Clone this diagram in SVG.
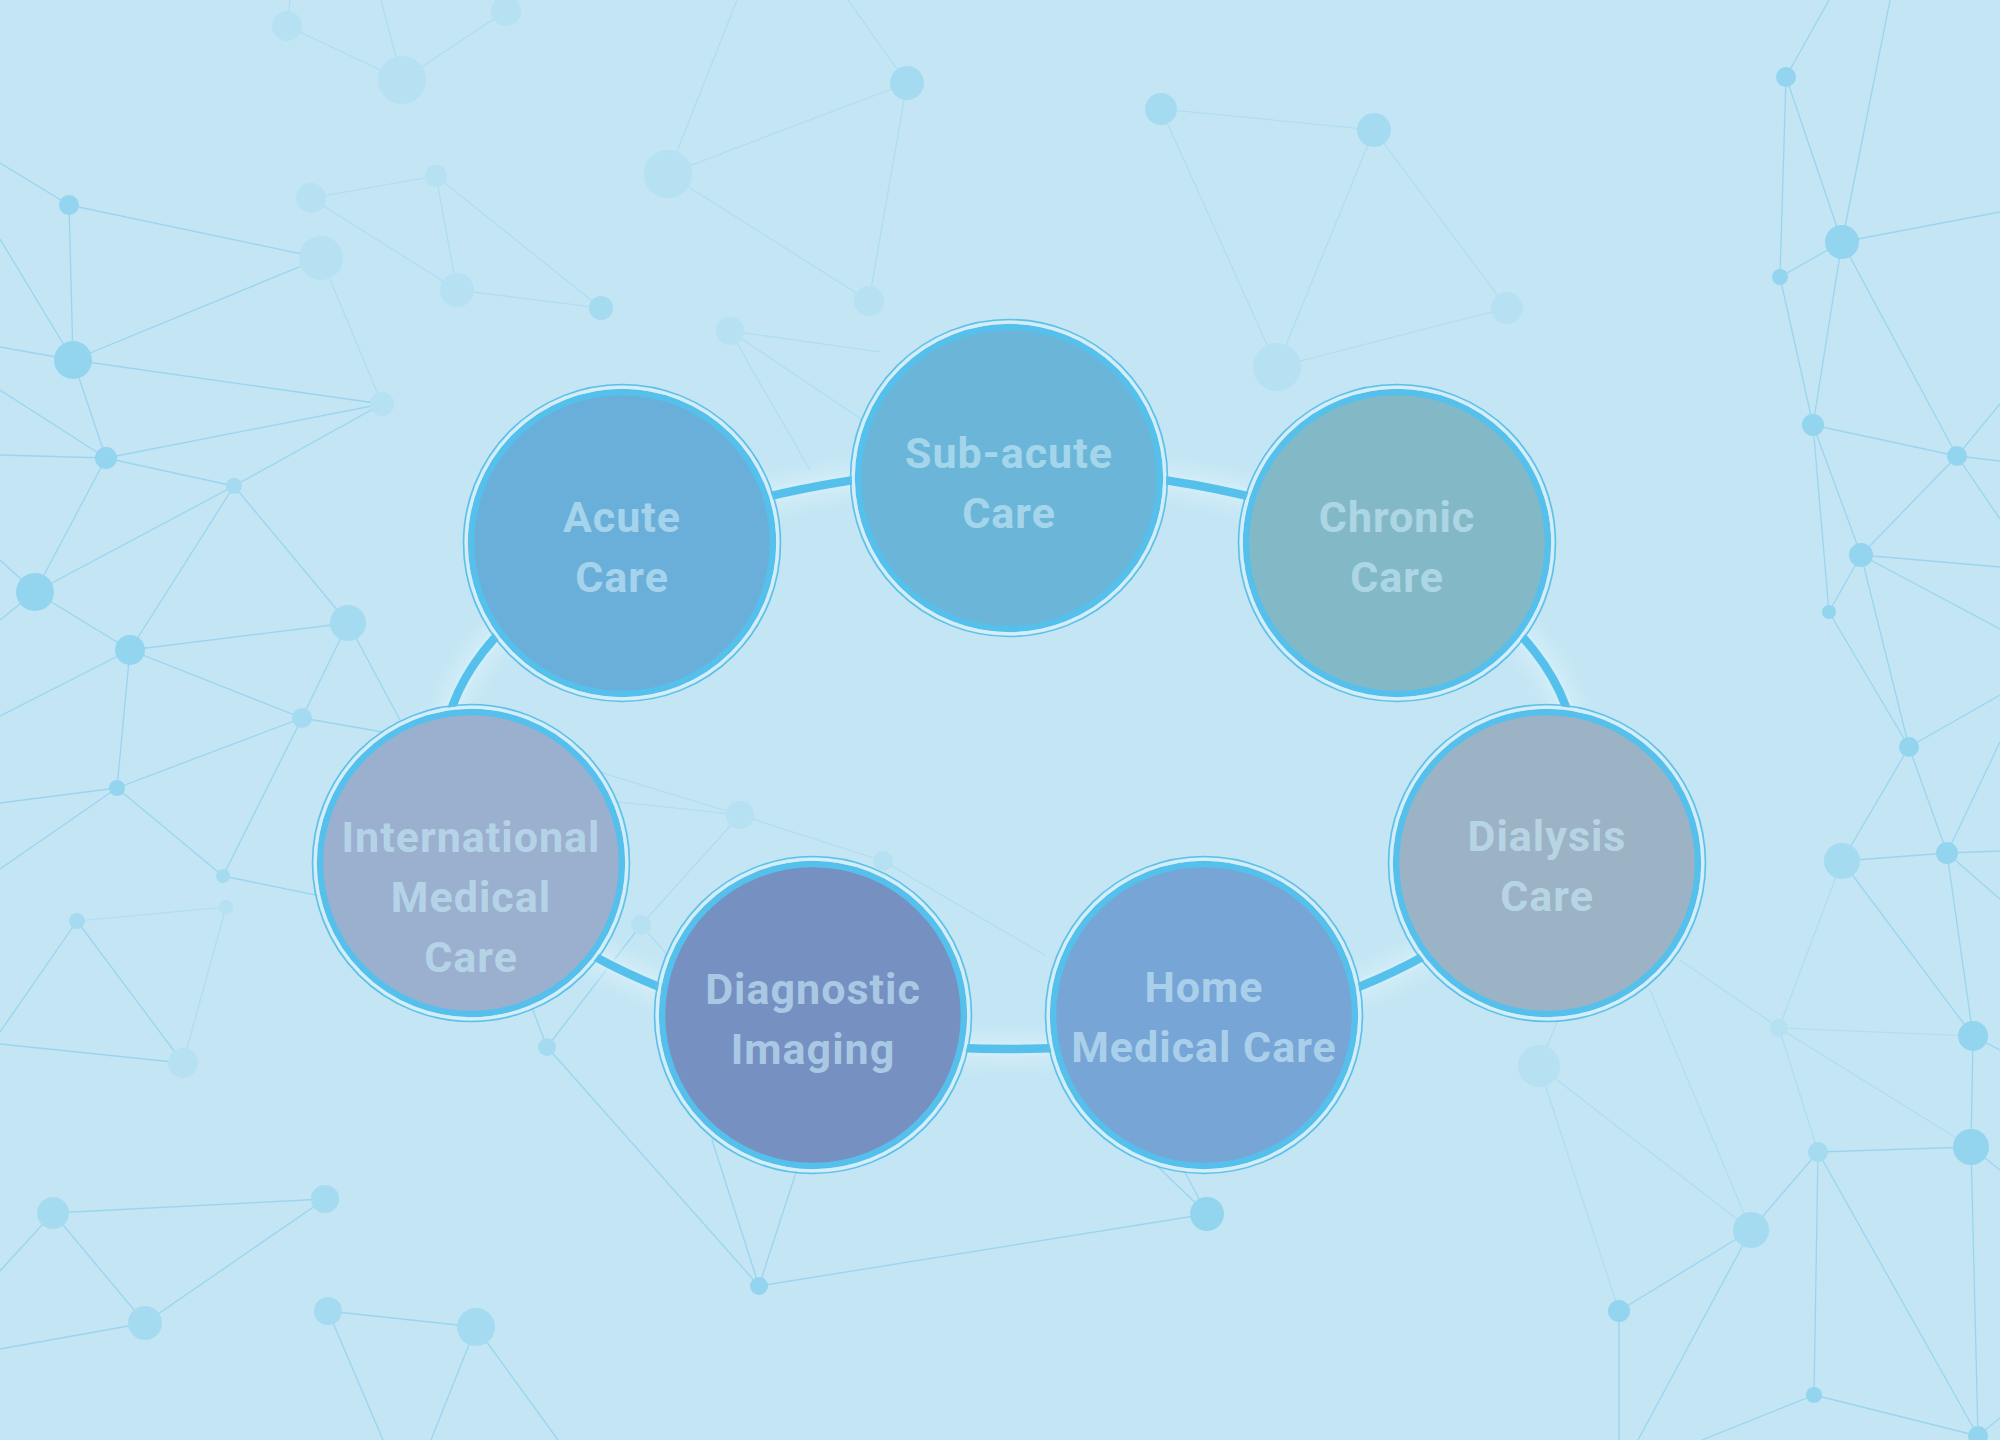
<svg xmlns="http://www.w3.org/2000/svg" width="2000" height="1440" viewBox="0 0 2000 1440">
<style>
.ln{stroke:#8dd0ee;stroke-width:1.3;opacity:.75;fill:none}
.lf{stroke:#a6daf0;stroke-width:1.2;opacity:.7;fill:none}
.dt{fill:#93d4ef}
.dm{fill:#a5dbf0}
.df{fill:#b5e1f2}
.ring{fill:none;stroke:#55c0eb;stroke-width:6.5}
.gap{fill:none;stroke:#d3eef9;stroke-width:3}
.out{fill:none;stroke:#5cc0ea;stroke-width:1.6}
.lbl{font-family:Roboto,"Liberation Sans",sans-serif;font-weight:700;font-size:43px;letter-spacing:1px;fill:#c4e6f5;fill-opacity:.68;text-anchor:middle}
</style>
<defs>
<filter id="blur" x="-20%" y="-20%" width="140%" height="140%"><feGaussianBlur stdDeviation="8"/></filter>
</defs>
<rect width="2000" height="1440" fill="#c3e5f4"/>
<g id="background-network">
<g class="lf">
<line x1="287" y1="26" x2="290" y2="0"/><line x1="287" y1="26" x2="402" y2="80"/><line x1="402" y1="80" x2="381" y2="0"/><line x1="402" y1="80" x2="506" y2="11"/>
<line x1="382" y1="404" x2="321" y2="258"/>
<line x1="311" y1="198" x2="436" y2="176"/><line x1="311" y1="198" x2="457" y2="290"/><line x1="436" y1="176" x2="457" y2="290"/><line x1="436" y1="176" x2="601" y2="308"/><line x1="457" y1="290" x2="601" y2="308"/>
<line x1="668" y1="174" x2="737" y2="0"/><line x1="668" y1="174" x2="907" y2="83"/><line x1="668" y1="174" x2="869" y2="301"/><line x1="907" y1="83" x2="869" y2="301"/><line x1="907" y1="83" x2="848" y2="0"/>
<line x1="730" y1="331" x2="880" y2="352"/><line x1="730" y1="331" x2="870" y2="425"/><line x1="730" y1="331" x2="810" y2="470"/>
<line x1="1161" y1="109" x2="1374" y2="130"/><line x1="1161" y1="109" x2="1277" y2="367"/><line x1="1374" y1="130" x2="1277" y2="367"/><line x1="1374" y1="130" x2="1507" y2="308"/><line x1="1277" y1="367" x2="1507" y2="308"/>
<line x1="1751" y1="1230" x2="1539" y2="1066"/><line x1="1539" y1="1066" x2="1619" y2="1311"/><line x1="1539" y1="1066" x2="1570" y2="990"/><line x1="1751" y1="1230" x2="1650" y2="990"/><line x1="1779" y1="1028" x2="1842" y2="861"/><line x1="1779" y1="1028" x2="1973" y2="1036"/><line x1="1779" y1="1028" x2="1971" y2="1147"/><line x1="1779" y1="1028" x2="1818" y2="1152"/><line x1="1779" y1="1028" x2="1680" y2="960"/>
<line x1="226" y1="907" x2="77" y2="921"/><line x1="226" y1="907" x2="183" y2="1063"/>
<line x1="641" y1="925" x2="740" y2="815"/><line x1="740" y1="815" x2="600" y2="800"/><line x1="740" y1="815" x2="560" y2="760"/><line x1="740" y1="815" x2="883" y2="861"/><line x1="883" y1="861" x2="1045" y2="955"/><line x1="641" y1="925" x2="672" y2="960"/>
</g>
<g class="ln">
<line x1="0" y1="163" x2="69" y2="205"/><line x1="69" y1="205" x2="321" y2="258"/><line x1="69" y1="205" x2="73" y2="360"/><line x1="73" y1="360" x2="321" y2="258"/><line x1="73" y1="360" x2="382" y2="404"/><line x1="73" y1="360" x2="106" y2="458"/><line x1="0" y1="239" x2="73" y2="360"/><line x1="0" y1="347" x2="73" y2="360"/>
<line x1="0" y1="390" x2="106" y2="458"/><line x1="0" y1="455" x2="106" y2="458"/><line x1="106" y1="458" x2="382" y2="404"/><line x1="106" y1="458" x2="234" y2="486"/><line x1="106" y1="458" x2="35" y2="592"/>
<line x1="234" y1="486" x2="382" y2="404"/><line x1="234" y1="486" x2="35" y2="592"/><line x1="234" y1="486" x2="130" y2="650"/><line x1="234" y1="486" x2="348" y2="623"/>
<line x1="35" y1="592" x2="130" y2="650"/><line x1="0" y1="560" x2="35" y2="592"/><line x1="0" y1="620" x2="35" y2="592"/>
<line x1="130" y1="650" x2="348" y2="623"/><line x1="130" y1="650" x2="302" y2="718"/><line x1="130" y1="650" x2="117" y2="788"/><line x1="0" y1="716" x2="130" y2="650"/>
<line x1="348" y1="623" x2="302" y2="718"/><line x1="348" y1="623" x2="400" y2="720"/>
<line x1="1786" y1="77" x2="1829" y2="0"/><line x1="1786" y1="77" x2="1780" y2="277"/><line x1="1786" y1="77" x2="1842" y2="242"/><line x1="1842" y1="242" x2="1890" y2="0"/><line x1="1842" y1="242" x2="1780" y2="277"/><line x1="1842" y1="242" x2="2000" y2="212"/><line x1="1842" y1="242" x2="1813" y2="425"/><line x1="1842" y1="242" x2="1957" y2="456"/>
<line x1="1780" y1="277" x2="1813" y2="425"/><line x1="1813" y1="425" x2="1957" y2="456"/><line x1="1813" y1="425" x2="1861" y2="555"/><line x1="1813" y1="425" x2="1829" y2="612"/>
<line x1="1957" y1="456" x2="2000" y2="461"/><line x1="1957" y1="456" x2="2000" y2="519"/><line x1="1957" y1="456" x2="2000" y2="404"/><line x1="1957" y1="456" x2="1861" y2="555"/>
<line x1="1861" y1="555" x2="2000" y2="567"/><line x1="1861" y1="555" x2="2000" y2="629"/><line x1="1861" y1="555" x2="1829" y2="612"/><line x1="1861" y1="555" x2="1909" y2="747"/><line x1="1829" y1="612" x2="1909" y2="747"/>
<line x1="1909" y1="747" x2="2000" y2="695"/><line x1="1909" y1="747" x2="1842" y2="861"/><line x1="1909" y1="747" x2="1947" y2="853"/><line x1="1842" y1="861" x2="1947" y2="853"/>
<line x1="1947" y1="853" x2="2000" y2="742"/><line x1="1947" y1="853" x2="2000" y2="851"/><line x1="1947" y1="853" x2="1973" y2="1036"/><line x1="1947" y1="853" x2="2000" y2="899"/><line x1="1842" y1="861" x2="1973" y2="1036"/>
<line x1="1973" y1="1036" x2="2000" y2="1050"/><line x1="1973" y1="1036" x2="1971" y2="1147"/><line x1="1971" y1="1147" x2="1818" y2="1152"/><line x1="1971" y1="1147" x2="2000" y2="1170"/><line x1="1971" y1="1147" x2="1978" y2="1436"/>
<line x1="1818" y1="1152" x2="1751" y2="1230"/><line x1="1818" y1="1152" x2="1814" y2="1395"/><line x1="1818" y1="1152" x2="1978" y2="1436"/>
<line x1="1751" y1="1230" x2="1619" y2="1311"/><line x1="1751" y1="1230" x2="1638" y2="1440"/><line x1="1619" y1="1311" x2="1619" y2="1440"/><line x1="1814" y1="1395" x2="1702" y2="1440"/><line x1="1814" y1="1395" x2="1978" y2="1436"/><line x1="1978" y1="1436" x2="2000" y2="1418"/>
<line x1="1207" y1="1214" x2="759" y2="1286"/><line x1="1207" y1="1214" x2="1130" y2="1140"/><line x1="1207" y1="1214" x2="1168" y2="1140"/>
<line x1="302" y1="718" x2="117" y2="788"/><line x1="302" y1="718" x2="223" y2="876"/><line x1="302" y1="718" x2="400" y2="735"/>
<line x1="117" y1="788" x2="0" y2="803"/><line x1="117" y1="788" x2="0" y2="869"/><line x1="117" y1="788" x2="223" y2="876"/><line x1="223" y1="876" x2="340" y2="900"/>
<line x1="77" y1="921" x2="183" y2="1063"/><line x1="77" y1="921" x2="0" y2="1032"/><line x1="0" y1="1044" x2="183" y2="1063"/>
<line x1="547" y1="1047" x2="641" y2="925"/><line x1="547" y1="1047" x2="529" y2="1000"/><line x1="547" y1="1047" x2="759" y2="1286"/>
<line x1="759" y1="1286" x2="712" y2="1140"/><line x1="759" y1="1286" x2="800" y2="1160"/>
<line x1="53" y1="1213" x2="325" y2="1199"/><line x1="53" y1="1213" x2="145" y2="1323"/><line x1="53" y1="1213" x2="0" y2="1271"/><line x1="325" y1="1199" x2="145" y2="1323"/><line x1="145" y1="1323" x2="0" y2="1349"/>
<line x1="328" y1="1311" x2="476" y2="1327"/><line x1="328" y1="1311" x2="383" y2="1440"/><line x1="476" y1="1327" x2="431" y2="1440"/><line x1="476" y1="1327" x2="558" y2="1440"/>
</g>
<g>
<circle class="df" cx="287" cy="26" r="15"/><circle class="df" cx="402" cy="80" r="24"/><circle class="df" cx="506" cy="11" r="15"/>
<circle class="dt" cx="69" cy="205" r="10"/><circle class="dt" cx="73" cy="360" r="19"/><circle class="dt" cx="106" cy="458" r="11"/><circle class="dm" cx="234" cy="486" r="8"/><circle class="dt" cx="35" cy="592" r="19"/><circle class="dt" cx="130" cy="650" r="15"/><circle class="dm" cx="348" cy="623" r="18"/><circle class="dm" cx="302" cy="718" r="10"/>
<circle class="df" cx="382" cy="404" r="12"/><circle class="df" cx="321" cy="258" r="22"/><circle class="df" cx="311" cy="198" r="15"/><circle class="df" cx="436" cy="176" r="11"/><circle class="df" cx="457" cy="290" r="17"/><circle class="dm" cx="601" cy="308" r="12"/>
<circle class="df" cx="668" cy="174" r="24"/><circle class="dm" cx="907" cy="83" r="17"/><circle class="df" cx="869" cy="301" r="15"/><circle class="df" cx="730" cy="331" r="14"/>
<circle class="dm" cx="1161" cy="109" r="16"/><circle class="dm" cx="1374" cy="130" r="17"/><circle class="df" cx="1507" cy="308" r="16"/><circle class="df" cx="1277" cy="367" r="24"/>
<circle class="dt" cx="1786" cy="77" r="10"/><circle class="dt" cx="1842" cy="242" r="17"/><circle class="dt" cx="1780" cy="277" r="8"/><circle class="dt" cx="1813" cy="425" r="11"/><circle class="dt" cx="1957" cy="456" r="10"/><circle class="dt" cx="1861" cy="555" r="12"/><circle class="dt" cx="1829" cy="612" r="7"/>
<circle class="dt" cx="1909" cy="747" r="10"/><circle class="dm" cx="1842" cy="861" r="18"/><circle class="dt" cx="1947" cy="853" r="11"/><circle class="dt" cx="1973" cy="1036" r="15"/><circle class="dt" cx="1971" cy="1147" r="18"/><circle class="dm" cx="1818" cy="1152" r="10"/><circle class="dm" cx="1751" cy="1230" r="18"/><circle class="dt" cx="1619" cy="1311" r="11"/><circle class="dt" cx="1814" cy="1395" r="8"/><circle class="dt" cx="1978" cy="1436" r="10"/><circle class="df" cx="1539" cy="1066" r="21"/><circle class="df" cx="1779" cy="1028" r="9"/>
<circle class="dt" cx="1207" cy="1214" r="17"/>
<circle class="dt" cx="117" cy="788" r="8"/><circle class="dm" cx="223" cy="876" r="7"/><circle class="df" cx="226" cy="907" r="7"/><circle class="dm" cx="77" cy="921" r="8"/><circle class="df" cx="183" cy="1063" r="15"/><circle class="dm" cx="547" cy="1047" r="9"/><circle class="df" cx="641" cy="925" r="10"/><circle class="df" cx="740" cy="815" r="14"/><circle class="df" cx="883" cy="861" r="10"/><circle class="dt" cx="759" cy="1286" r="9"/>
<circle class="dm" cx="53" cy="1213" r="16"/><circle class="dm" cx="325" cy="1199" r="14"/><circle class="dm" cx="145" cy="1323" r="17"/><circle class="dm" cx="328" cy="1311" r="14"/><circle class="dm" cx="476" cy="1327" r="19"/>
</g>
</g>
<g id="connectors">
<ellipse cx="1009" cy="759" rx="566" ry="290" fill="none" stroke="#e2f4fb" stroke-width="34" opacity=".4" filter="url(#blur)"/>
<ellipse cx="1009" cy="759" rx="566" ry="290" fill="none" stroke="#d3eef9" stroke-width="15" opacity=".55"/>
<ellipse cx="1009" cy="759" rx="566" ry="290" fill="none" stroke="#55c0eb" stroke-width="8.5"/>
</g>
<g id="node-acute-care">
<circle cx="622" cy="543" r="150" fill="#6aafda"/>
<circle class="ring" cx="622" cy="543" r="151"/><circle class="gap" cx="622" cy="543" r="155.7"/><circle class="out" cx="622" cy="543" r="158.5"/>
<text class="lbl" x="622" y="532">Acute</text><text class="lbl" x="622" y="592">Care</text>
</g>
<g id="node-sub-acute-care">
<circle cx="1009" cy="478" r="150" fill="#6bb6d8"/>
<circle class="ring" cx="1009" cy="478" r="151"/><circle class="gap" cx="1009" cy="478" r="155.7"/><circle class="out" cx="1009" cy="478" r="158.5"/>
<text class="lbl" x="1009" y="468">Sub-acute</text><text class="lbl" x="1009" y="528">Care</text>
</g>
<g id="node-chronic-care">
<circle cx="1397" cy="543" r="150" fill="#83b9c7"/>
<circle class="ring" cx="1397" cy="543" r="151"/><circle class="gap" cx="1397" cy="543" r="155.7"/><circle class="out" cx="1397" cy="543" r="158.5"/>
<text class="lbl" x="1397" y="532">Chronic</text><text class="lbl" x="1397" y="592">Care</text>
</g>
<g id="node-dialysis-care">
<circle cx="1547" cy="863" r="150" fill="#9cb3c5"/>
<circle class="ring" cx="1547" cy="863" r="151"/><circle class="gap" cx="1547" cy="863" r="155.7"/><circle class="out" cx="1547" cy="863" r="158.5"/>
<text class="lbl" x="1547" y="851">Dialysis</text><text class="lbl" x="1547" y="911">Care</text>
</g>
<g id="node-home-medical-care">
<circle cx="1204" cy="1015" r="150" fill="#77a5d6"/>
<circle class="ring" cx="1204" cy="1015" r="151"/><circle class="gap" cx="1204" cy="1015" r="155.7"/><circle class="out" cx="1204" cy="1015" r="158.5"/>
<text class="lbl" x="1204" y="1002">Home</text><text class="lbl" x="1204" y="1062">Medical Care</text>
</g>
<g id="node-diagnostic-imaging">
<circle cx="813" cy="1015" r="150" fill="#7690c2"/>
<circle class="ring" cx="813" cy="1015" r="151"/><circle class="gap" cx="813" cy="1015" r="155.7"/><circle class="out" cx="813" cy="1015" r="158.5"/>
<text class="lbl" x="813" y="1004">Diagnostic</text><text class="lbl" x="813" y="1064">Imaging</text>
</g>
<g id="node-international-medical-care">
<circle cx="471" cy="863" r="150" fill="#9bb0cf"/>
<circle class="ring" cx="471" cy="863" r="151"/><circle class="gap" cx="471" cy="863" r="155.7"/><circle class="out" cx="471" cy="863" r="158.5"/>
<text class="lbl" x="471" y="852">International</text><text class="lbl" x="471" y="912">Medical</text><text class="lbl" x="471" y="972">Care</text>
</g>
</svg>
